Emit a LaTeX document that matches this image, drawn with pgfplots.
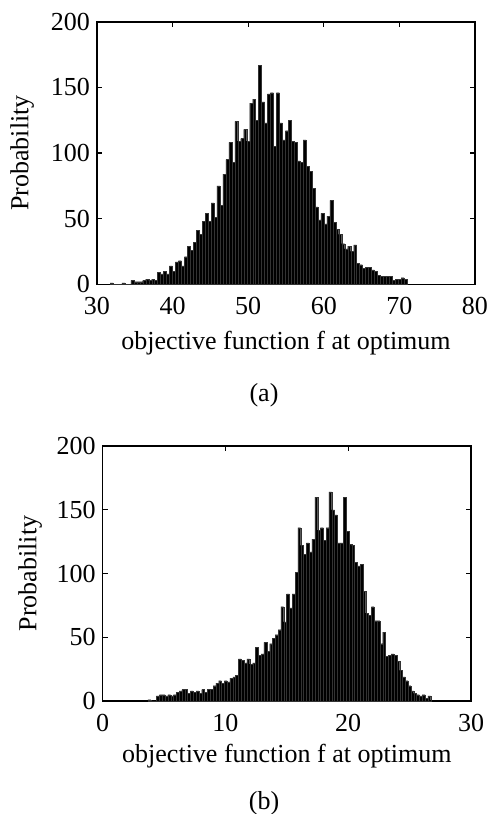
\documentclass[border=0pt]{standalone}
\usepackage{fontspec}
\setmainfont{Liberation Serif}
\usepackage{pgfplots}
\usepackage{pgfplotstable}
\pgfplotsset{compat=1.18}
\pgfplotstableread{
x y
31.92 1
32.31 0
32.71 0
33.10 0
33.49 1
33.89 0
34.28 0
34.67 3
35.06 2
35.46 2
35.85 2
36.24 3
36.64 4
37.03 3
37.42 4
37.81 3
38.21 9
38.60 8
38.99 10
39.39 8
39.78 14
40.17 10
40.56 17
40.96 18
41.35 14
41.74 21
42.14 29
42.53 26
42.92 32
43.31 41
43.71 38
44.10 48
44.49 54
44.89 48
45.28 62
45.67 51
46.06 75
46.46 60
46.85 84
47.24 95
47.64 108
48.03 93
48.42 124
48.82 109
49.21 111
49.60 118
49.99 109
50.39 138
50.78 141
51.17 125
51.57 167
51.96 139
52.35 123
52.74 145
53.14 146
53.53 105
53.92 146
54.32 123
54.71 110
55.10 117
55.49 125
55.89 109
56.28 108
56.67 94
57.07 93
57.46 110
57.85 90
58.24 86
58.64 73
59.03 59
59.42 49
59.82 54
60.21 46
60.60 52
61.00 64
61.39 47
61.78 42
62.17 38
62.57 31
62.96 27
63.35 29
63.75 25
64.14 30
64.53 16
64.92 15
65.32 12
65.71 13
66.10 13
66.50 11
66.89 10
67.28 7
67.67 6
68.07 6
68.46 6
68.85 6
69.25 3
69.64 4
70.03 4
70.42 5
70.82 4
}\dataA
\pgfplotstableread{
x y
3.80 1
4.03 0
4.26 0
4.49 4
4.73 5
4.96 5
5.19 4
5.42 5
5.65 4
5.88 5
6.11 7
6.34 8
6.57 9
6.80 9
7.03 6
7.26 8
7.49 7
7.72 8
7.95 6
8.18 9
8.41 7
8.64 9
8.87 9
9.10 12
9.33 14
9.56 16
9.79 14
10.02 16
10.25 15
10.48 18
10.71 19
10.94 20
11.17 33
11.40 32
11.63 30
11.86 33
12.10 29
12.33 30
12.56 42
12.79 36
13.02 37
13.25 46
13.48 39
13.71 45
13.94 49
14.17 52
14.40 56
14.63 74
14.86 62
15.09 84
15.32 73
15.55 84
15.78 101
16.01 136
16.24 122
16.47 115
16.70 124
16.93 117
17.16 127
17.39 160
17.62 134
17.85 136
18.08 126
18.31 136
18.54 164
18.77 150
19.00 146
19.23 124
19.46 124
19.69 160
19.93 133
20.16 123
20.39 122
20.62 109
20.85 106
21.08 107
21.31 86
21.54 69
21.77 67
22.00 74
22.23 63
22.46 63
22.69 45
22.92 54
23.15 35
23.38 36
23.61 37
23.84 36
24.07 31
24.30 24
24.53 19
24.76 16
24.99 12
25.22 8
25.45 6
25.68 5
25.91 4
26.14 5
26.37 2
26.60 4
}\dataB
\pgfplotsset{
  myhist/.style={
    scale only axis,
    ymin=0, ymax=200,
    ytick={0,50,100,150,200},
    tick align=inside,
    major tick length=2.5pt,
    axis line style={line width=0.8pt},
    every tick/.style={black, line width=0.6pt},
    /pgf/number format/assume math mode=true,
    tick label style={font=\fontsize{13}{15.6}\selectfont},
    xticklabel style={yshift=-3pt},
    label style={font=\fontsize{13}{15.6}\selectfont},
    ylabel={Probability},
    xlabel={objective function f at optimum},
  },
}
\begin{document}
\begin{tikzpicture}[font=\fontsize{13}{15.6}\selectfont]
\useasboundingbox (0,0) rectangle (246pt,-407pt);
\begin{axis}[myhist,
  at={(48.5pt,-10.85pt)}, anchor=north west,
  width=189pt, height=131.3pt,
  xmin=30, xmax=80, xtick={30,40,50,60,70,80},
  ylabel style={at={(axis description cs:-0.198,0.5)}, anchor=center},
  xlabel style={at={(axis description cs:0.5,-0.2235)}, anchor=center},
]
\addplot[ybar, bar width=0.3929, bar shift=0pt, fill=black, draw=black!80, line width=0.1pt] table[x=x,y=y] {\dataA};
\end{axis}
\node at (132pt,-197.5pt) {(a)};
\begin{axis}[myhist,
  at={(51.35pt,-223pt)}, anchor=north west,
  width=184.15pt, height=127.5pt,
  xmin=0, xmax=30, xtick={0,10,20,30},
  ylabel style={at={(axis description cs:-0.197,0.5)}, anchor=center},
  xlabel style={at={(axis description cs:0.5,-0.218)}, anchor=center},
]
\addplot[ybar, bar width=0.2303, bar shift=0pt, fill=black, draw=black!80, line width=0.1pt] table[x=x,y=y] {\dataB};
\end{axis}
\node at (132pt,-401.5pt) {(b)};
\end{tikzpicture}
\end{document}
